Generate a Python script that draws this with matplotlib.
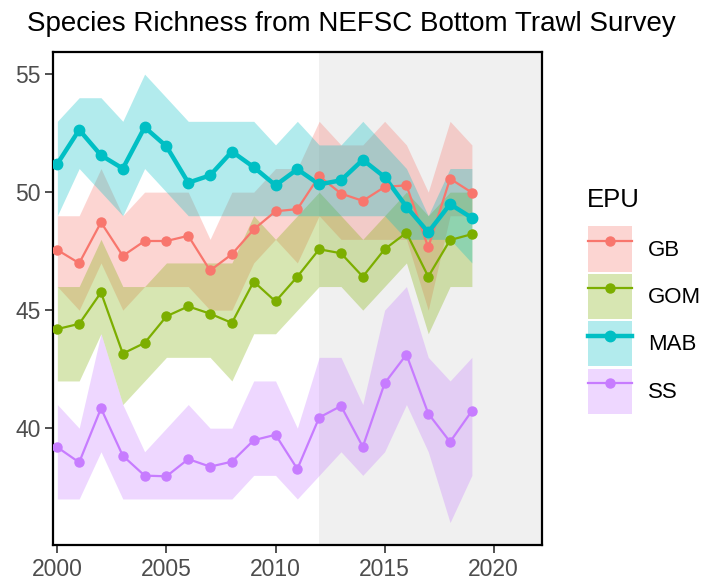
import matplotlib.pyplot as plt
from matplotlib.patches import Patch
from matplotlib.lines import Line2D
from matplotlib.legend_handler import HandlerTuple

plt.rcParams['font.family'] = ['Liberation Sans', 'DejaVu Sans']

years = [2000, 2001, 2002, 2003, 2004, 2005, 2006, 2007, 2008, 2009,
         2010, 2011, 2012, 2013, 2014, 2015, 2016, 2017, 2018, 2019]

# mean richness per EPU
gb = [47.55, 46.99, 48.72, 47.30, 47.93, 47.93, 48.15, 46.68, 47.37, 48.42,
      49.19, 49.28, 50.68, 49.94, 49.63, 50.22, 50.29, 47.66, 50.57, 49.98]
gom = [44.20, 44.42, 45.75, 43.16, 43.61, 44.74, 45.16, 44.85, 44.46, 46.21,
       45.37, 46.42, 47.58, 47.41, 46.42, 47.58, 48.28, 46.42, 47.97, 48.22]
mab = [51.20, 52.64, 51.56, 51.00, 52.75, 51.94, 50.40, 50.71, 51.72, 51.06,
       50.29, 50.97, 50.33, 50.50, 51.37, 50.64, 49.38, 48.30, 49.49, 48.91]
ss = [39.19, 38.55, 40.84, 38.83, 37.99, 37.96, 38.69, 38.37, 38.58, 39.49,
      39.72, 38.27, 40.45, 40.94, 39.21, 41.90, 43.12, 40.62, 39.42, 40.73]

# ribbon bounds
gb_lo = [46, 45, 47, 45, 46, 46, 46, 45, 45, 47, 48, 47, 49, 48, 48, 48, 48, 45, 49, 49]
gb_hi = [49, 49, 51, 49, 50, 50, 50, 48, 50, 50, 51, 51, 53, 52, 52, 53, 52, 50, 53, 52]
gom_lo = [42, 42, 44, 41, 42, 43, 43, 43, 42, 44, 44, 45, 46, 46, 45, 46, 47, 44, 46, 46]
gom_hi = [46, 46, 48, 46, 46, 47, 47, 47, 47, 49, 48, 49, 50, 49, 48, 49, 50, 49, 50, 50]
mab_lo = [49, 51, 50, 49, 51, 50, 49, 49, 49, 49, 49, 49, 49, 49, 49, 49, 48, 48, 48, 47]
mab_hi = [53, 54, 54, 53, 55, 54, 53, 53, 53, 53, 52, 53, 52, 52, 53, 52, 51, 49, 51, 51]
ss_lo = [37, 37, 39, 37, 37, 37, 37, 37, 37, 38, 38, 37, 38, 39, 38, 39, 41, 39, 36, 38]
ss_hi = [41, 40, 44, 41, 39, 40, 41, 40, 40, 42, 42, 40, 43, 43, 41, 45, 46, 43, 42, 43]

epus = ["GB", "GOM", "MAB", "SS"]
colors = {"GB": "#F8766D", "GOM": "#7CAE00", "MAB": "#00BFC4", "SS": "#C77CFF"}
means = {"GB": gb, "GOM": gom, "MAB": mab, "SS": ss}
lows = {"GB": gb_lo, "GOM": gom_lo, "MAB": mab_lo, "SS": ss_lo}
highs = {"GB": gb_hi, "GOM": gom_hi, "MAB": mab_hi, "SS": ss_hi}
lw = {"GB": 1.6, "GOM": 1.6, "MAB": 3.2, "SS": 1.6}
ms = {"GB": 6.5, "GOM": 6.5, "MAB": 7.5, "SS": 6.5}

fig = plt.figure(figsize=(7.04, 5.81), dpi=100)
ax = fig.add_axes([53 / 704, 1 - 545 / 581, (541.7 - 53) / 704, (545 - 51.7) / 581])

ax.axvspan(2012, 2030, color="#F0F0F0", lw=0, zorder=0)

for e in epus:
    ax.fill_between(years, lows[e], highs[e], color=colors[e], alpha=0.3, lw=0, zorder=1)
for e in epus:
    ax.plot(years, means[e], color=colors[e], lw=lw[e], zorder=2)
for e in epus:
    ax.plot(years, means[e], ls="none", marker="o", color=colors[e], ms=ms[e], zorder=3)

ax.set_xlim(1999.8, 2022.2)
ax.set_ylim(35.05, 55.95)
ax.set_xticks([2000, 2005, 2010, 2015, 2020])
ax.set_yticks([40, 45, 50, 55])
ax.tick_params(length=6, width=1.2, color="#333333", labelcolor="#4D4D4D", labelsize=16.5, pad=3)
for s in ax.spines.values():
    s.set_linewidth(1.6)
    s.set_color("black")

fig.text(27 / 704, 1 - 31 / 581, "Species Richness from NEFSC Bottom Trawl Survey",
         fontsize=20, ha="left", va="baseline")

# legend: title as separate text, keys below
fig.text(587 / 704, 1 - 200 / 581, "EPU", fontsize=18.5, ha="left", va="center")
handles = []
for e in epus:
    handles.append((Patch(facecolor=colors[e], alpha=0.3, edgecolor="none"),
                    Line2D([], [], color=colors[e], lw=lw[e], marker="o", ms=ms[e])))
leg = fig.legend(handles, epus, handler_map={tuple: HandlerTuple(ndivide=1)},
                 loc="center left", bbox_to_anchor=(588 / 704, 1 - 320 / 581),
                 frameon=False, fontsize=16,
                 handlelength=2.0, handleheight=2.75, labelspacing=0.1,
                 handletextpad=0.7, borderpad=0, borderaxespad=0)

fig.savefig("out.png", dpi=100)
